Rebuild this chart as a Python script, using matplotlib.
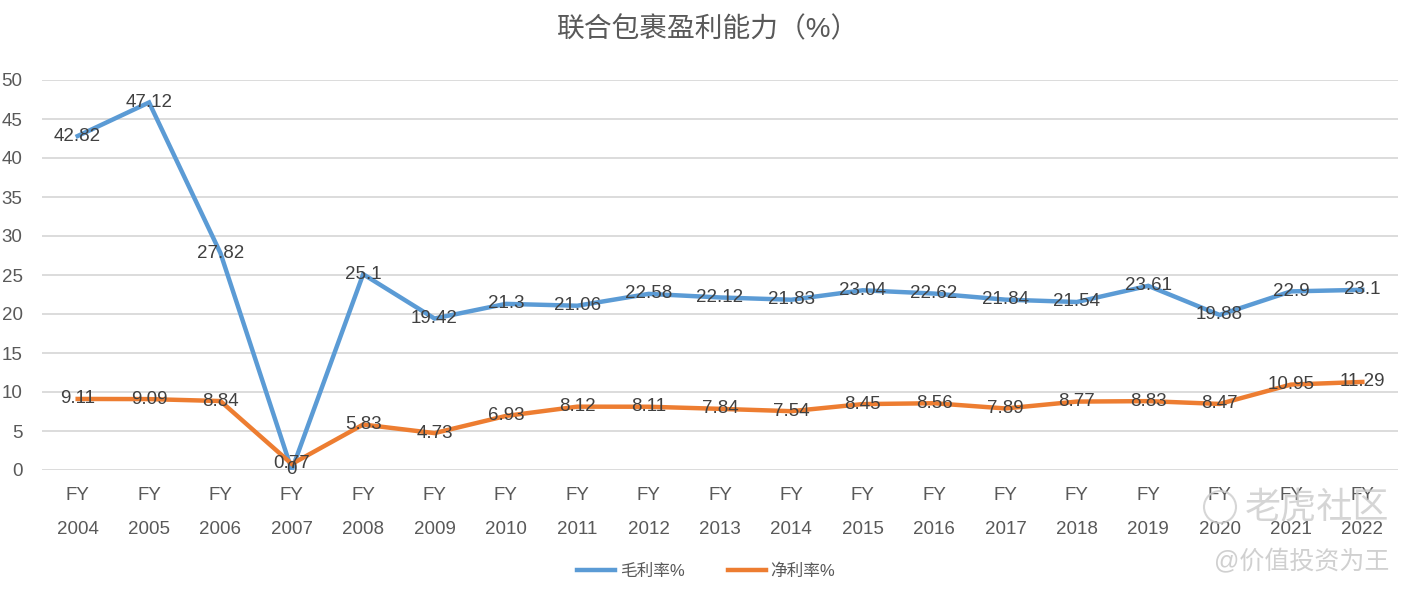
import matplotlib
matplotlib.use("Agg")
import matplotlib.pyplot as plt
from matplotlib.lines import Line2D
from matplotlib.patches import Ellipse

plt.rcParams['font.family'] = ['Liberation Sans', 'Noto Sans CJK SC', 'DejaVu Sans']

years = ['2004', '2005', '2006', '2007', '2008', '2009', '2010', '2011', '2012', '2013',
         '2014', '2015', '2016', '2017', '2018', '2019', '2020', '2021', '2022']
categories = ['FY\n' + y for y in years]
gross_margin = [42.82, 47.12, 27.82, 0, 25.1, 19.42, 21.3, 21.06, 22.58, 22.12,
                21.83, 23.04, 22.62, 21.84, 21.54, 23.61, 19.88, 22.9, 23.1]
net_margin = [9.11, 9.09, 8.84, 0.77, 5.83, 4.73, 6.93, 8.12, 8.11, 7.84,
              7.54, 8.45, 8.56, 7.89, 8.77, 8.83, 8.47, 10.95, 11.29]
series_names = ['毛利率%', '净利率%']
yticks = [0, 5, 10, 15, 20, 25, 30, 35, 40, 45, 50]

BLUE = '#5B9BD5'
ORANGE = '#ED7D31'
GRAY = '#595959'

W, H = 1416, 594
fig = plt.figure(figsize=(W / 100, H / 100), dpi=100)
ax = fig.add_axes([42/W, 1-470/H, (1398-42)/W, (470-80)/H])

x = list(range(len(categories)))
ax.plot(x, gross_margin, color=BLUE, lw=3.2, solid_joinstyle='miter', zorder=3)
ax.plot(x, net_margin, color=ORANGE, lw=3.2, solid_joinstyle='miter', zorder=3)

for xi, v in zip(x, gross_margin):
    ax.text(xi, v, f'{v:g}', ha='center', va='center', fontsize=13.5, color='#404040', zorder=4)
for xi, v in zip(x, net_margin):
    ax.text(xi, v, f'{v:g}', ha='center', va='center', fontsize=13.5, color='#404040', zorder=4)

ax.set_xlim(-0.5, len(categories) - 0.5)
ax.set_ylim(0, 50)
ax.set_yticks(yticks)
ax.set_xticks(x)
ax.set_xticklabels(categories, linespacing=2.3)
ax.grid(axis='y', color='#D9D9D9', lw=1.3)
ax.set_axisbelow(True)
for s in ax.spines.values():
    s.set_visible(False)
ax.tick_params(axis='both', length=0, colors=GRAY, labelsize=13.5)
ax.tick_params(axis='y', pad=14)
ax.tick_params(axis='x', pad=12.5)

fig.text(0.5, 1-30/H, '联合包裹盈利能力（%）', ha='center', va='center', fontsize=20, color=GRAY)

handles = [Line2D([], [], color=BLUE, lw=3.2), Line2D([], [], color=ORANGE, lw=3.2)]
fig.legend(handles, series_names, loc='center', bbox_to_anchor=(706/W, 1-571/H), ncol=2,
           frameon=False, fontsize=12, labelcolor=GRAY, handlelength=2.3, columnspacing=2.6,
           handletextpad=0.25)

# watermark
fig.patches.append(Ellipse((1220/W, 1-507/H), 32/W, 32/H, transform=fig.transFigure,
                           fill=False, edgecolor='#CCCCCC', lw=1.5, alpha=0.8, zorder=10))
fig.text(1317/W, 1-509/H, '老虎社区', ha='center', va='center', fontsize=26,
         color='#C8C8C8', alpha=0.75, zorder=10)
fig.text(1302/W, 1-562/H, '@价值投资为王', ha='center', va='center', fontsize=18,
         color='#C8C8C8', alpha=0.85, zorder=10)

fig.savefig('out.png', dpi=100)
